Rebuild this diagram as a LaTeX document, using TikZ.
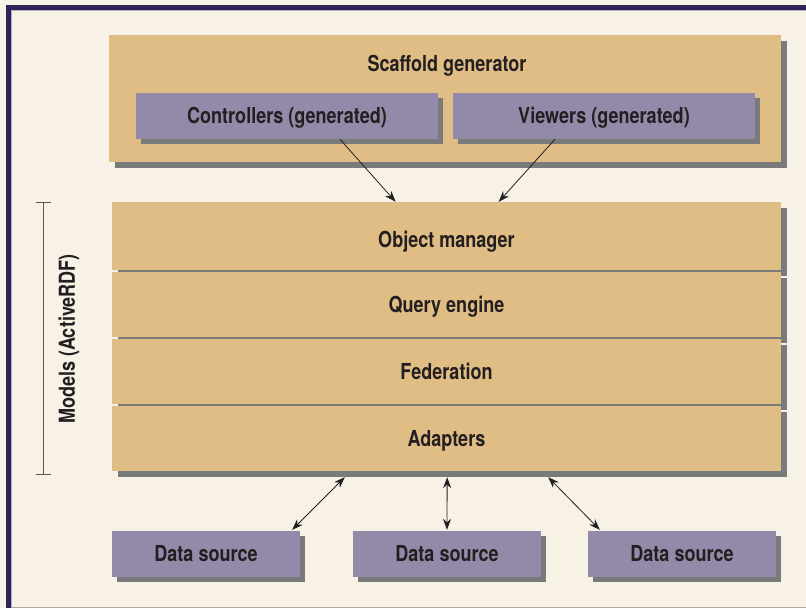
\documentclass[tikz,border=0pt]{standalone}
\usepackage{fontspec}
\setmainfont{TeX Gyre Heros}[FakeStretch=0.82]
\usetikzlibrary{arrows.meta,shadows,calc}

\definecolor{pagebg}{HTML}{F8F2E6}
\definecolor{framenavy}{HTML}{2E2257}
\definecolor{framelilac}{HTML}{B7ABC4}
\definecolor{tanfill}{HTML}{E0BD84}
\definecolor{lilacfill}{HTML}{938AA9}
\definecolor{shadowgray}{HTML}{787A7C}
\definecolor{inkdark}{HTML}{231F20}
\definecolor{rulegray}{HTML}{B0AAA8}

\tikzset{
  % text box spans the capitals only, so a node centres its capitals
  lbl/.style={font=\bfseries\fontsize{22}{25}\selectfont, text=inkdark,
    inner sep=0pt, text height=15.8pt, text depth=0pt},
  bigbox/.style={rectangle, fill=tanfill, inner sep=0pt,
    general shadow={fill=shadowgray, shadow xshift=6pt, shadow yshift=-6pt}},
  smallbox/.style={rectangle, fill=lilacfill, inner sep=0pt,
    minimum height=46pt, lbl,
    general shadow={fill=shadowgray, shadow xshift=5pt, shadow yshift=-5pt}},
  layer/.style={bigbox, minimum width=669pt, lbl},
  link/.style={draw=inkdark, line width=0.8pt,
    -{Stealth[length=11pt,width=8pt]}},
  duplex/.style={link, {Stealth[length=11pt,width=8pt]}-{Stealth[length=11pt,width=8pt]}},
}

\begin{document}
\begin{tikzpicture}[x=1pt, y=-1pt]
  % page and frame
  \useasboundingbox (0,0) rectangle (806,608);
  \fill[pagebg] (0,0) rectangle (806,608);
  \fill[framenavy] (6,5) rectangle (806,10);
  \fill[framenavy] (6,5) rectangle (11,608);
  \fill[framelilac] (11,10) rectangle (806,11.2);
  \fill[framelilac] (11,10) rectangle (12.2,608);
  \fill[rulegray] (11,606.6) rectangle (806,607.8);

  % scaffold generator
  \node[bigbox, minimum width=672pt, minimum height=127pt] (scaffold) at (445,98.5) {};
  \node[lbl] (sgtitle) at (447,63.5) {Scaffold generator};
  \node[smallbox, minimum width=302pt] (ctrl) at (287,116) {Controllers (generated)};
  \node[smallbox, minimum width=302pt] (view) at (604,116) {Viewers (generated)};

  % model layers
  \node[layer, minimum height=68pt] (objmgr) at (446.5,236) {};
  \node[lbl] (objmgrtext) at ($(objmgr.center)+(0,3.5)$) {Object manager};
  \node[layer, minimum height=65pt] (query)  at (446.5,304.5) {Query engine};
  \node[layer, minimum height=65pt] (fed)    at (446.5,371.5) {Federation};
  \node[layer, minimum height=65pt] (adapt)  at (446.5,438.5) {Adapters};

  % bracket for the model layers
  \coordinate (brtop) at (43.5,202);
  \coordinate (brbot) at (43.5,474);
  \draw[draw=inkdark!75, line width=0.9pt]
    ($(brtop)+(-7.5,0)$) -- ($(brtop)+(7.5,0)$)
    (brtop) -- (brbot)
    ($(brbot)+(-7.5,0)$) -- ($(brbot)+(7.5,0)$);
  \node[lbl, rotate=90] (models) at (67,339) {Models (ActiveRDF)};

  % data sources
  \node[smallbox, minimum width=188pt] (ds1) at (206,554) {Data source};
  \node[smallbox, minimum width=188pt] (ds2) at (447,554) {Data source};
  \node[smallbox, minimum width=188pt] (ds3) at (682,554) {Data source};

  % connectors
  \draw[link] ($(ctrl.south west)!0.675!(ctrl.south east)$) -- ($(objmgr.north west)!0.424!(objmgr.north east)$);
  \draw[link] ($(view.south west)!0.338!(view.south east)$) -- ($(objmgr.north west)!0.578!(objmgr.north east)$);
  \draw[duplex] ($(adapt.south west)!0.348!(adapt.south east)+(0,6)$) -- ($(ds1.north east)+(-8,-1)$);
  \draw[duplex] ($(adapt.south west)!0.501!(adapt.south east)+(0,6)$) -- ($(ds2.north)+(0,-1)$);
  \draw[duplex] ($(adapt.south west)!0.652!(adapt.south east)+(0,6)$) -- ($(ds3.north west)+(12,-1)$);
\end{tikzpicture}
\end{document}
